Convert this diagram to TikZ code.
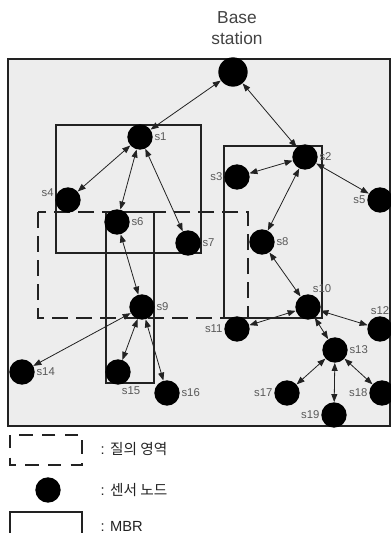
\documentclass[tikz,border=0pt]{standalone}
\usepackage{fontspec}
\setmainfont{Liberation Sans}
\newfontfamily\kor{Noto Sans CJK KR}
\usepackage{tikz}
\usetikzlibrary{arrows.meta}
\definecolor{field}{HTML}{EDEDED}
\definecolor{ink}{HTML}{222222}
\tikzset{
  sensor/.style={circle,fill=black,minimum size=19pt,inner sep=0pt},
  slabel/.style={font=\fontsize{8.5}{9}\selectfont,text=ink!75,inner sep=1pt,label distance=0pt},
  mbr/.style={draw=ink,line width=0.9pt},
  query/.style={draw=ink,line width=1pt,dash pattern=on 12pt off 6pt},
  arr/.style={{Triangle[length=6pt,width=4.5pt]}-{Triangle[length=6pt,width=4.5pt]},draw=ink,line width=0.6pt},
  legtext/.style={anchor=west,font=\fontsize{11}{13}\selectfont,text=ink}
}
\begin{document}
\begin{tikzpicture}[x=0.75pt,y=-0.75pt]
  \useasboundingbox (0,0) rectangle (391,533);
  % field and regions
  \draw[draw=ink,line width=0.9pt,fill=field] (8,59) rectangle (390,426);
  \draw[mbr] (56,125) rectangle (201,253);
  \draw[mbr] (224,146) rectangle (322,318);
  \draw[mbr] (106,212) rectangle (154,383);
  \draw[query] (38,212) rectangle (248,318);

  \node[align=center,font=\fontsize{13}{16}\selectfont,text=ink!85] (bstext) at (237,28) {Base\\station};
  \node[sensor,minimum size=22pt] (bs) at (233,72) {};

  \node[sensor,label={[slabel]0:s1}] (s1) at (140,137) {};
  \node[sensor,label={[slabel]0:s2}] (s2) at (305,157) {};
  \node[sensor,label={[slabel]180:s3}] (s3) at (237,177) {};
  \node[sensor,label={[slabel]170:s4}] (s4) at (68,200) {};
  \node[sensor,label={[slabel]180:s5}] (s5) at (380,200) {};
  \node[sensor,label={[slabel]0:s6}] (s6) at (117,222) {};
  \node[sensor,label={[slabel]0:s7}] (s7) at (188,243) {};
  \node[sensor,label={[slabel]0:s8}] (s8) at (262,242) {};
  \node[sensor,label={[slabel]0:s9}] (s9) at (142,307) {};
  \node[sensor,label={[slabel]75:s10}] (s10) at (308,307) {};
  \node[sensor,label={[slabel]180:s11}] (s11) at (237,329) {};
  \node[sensor,label={[slabel]90:s12}] (s12) at (380,329) {};
  \node[sensor,label={[slabel]0:s13}] (s13) at (335,350) {};
  \node[sensor,label={[slabel]0:s14}] (s14) at (22,372) {};
  \node[sensor,label={[slabel]-80:s15}] (s15) at (118,372) {};
  \node[sensor,label={[slabel]0:s16}] (s16) at (167,393) {};
  \node[sensor,label={[slabel]180:s17}] (s17) at (287,393) {};
  \node[sensor,label={[slabel]180:s18}] (s18) at (382,393) {};
  \node[sensor,label={[slabel]180:s19}] (s19) at (334,415) {};

  \draw[arr] (bs) -- (s1);
  \draw[arr] (bs) -- (s2);
  \draw[arr] (s1) -- (s4);
  \draw[arr] (s1) -- (s6);
  \draw[arr] (s1) -- (s7);
  \draw[arr] (s2) -- (s3);
  \draw[arr] (s2) -- (s8);
  \draw[arr] (s2) -- (s5);
  \draw[arr] (s6) -- (s9);
  \draw[arr] (s8) -- (s10);
  \draw[arr] (s9) -- (s14);
  \draw[arr] (s9) -- (s15);
  \draw[arr] (s9) -- (s16);
  \draw[arr] (s10) -- (s11);
  \draw[arr] (s10) -- (s12);
  \draw[arr] (s10) -- (s13);
  \draw[arr] (s13) -- (s17);
  \draw[arr] (s13) -- (s18);
  \draw[arr] (s13) -- (s19);

  % legend
  \draw[query,dash pattern=on 10pt off 7pt] (10,435) rectangle (82,465);
  \node[legtext] (legq) at (96,449) {: {\kor 질의 영역}};
  \node[sensor,minimum size=19pt] (legs) at (48,490) {};
  \node[legtext] (legn) at (96,490) {: {\kor 센서 노드}};
  \draw[mbr] (10,533) |- (82,512) -- (82,533);
  \node[legtext] (legm) at (96,526) {: MBR};
\end{tikzpicture}
\end{document}
